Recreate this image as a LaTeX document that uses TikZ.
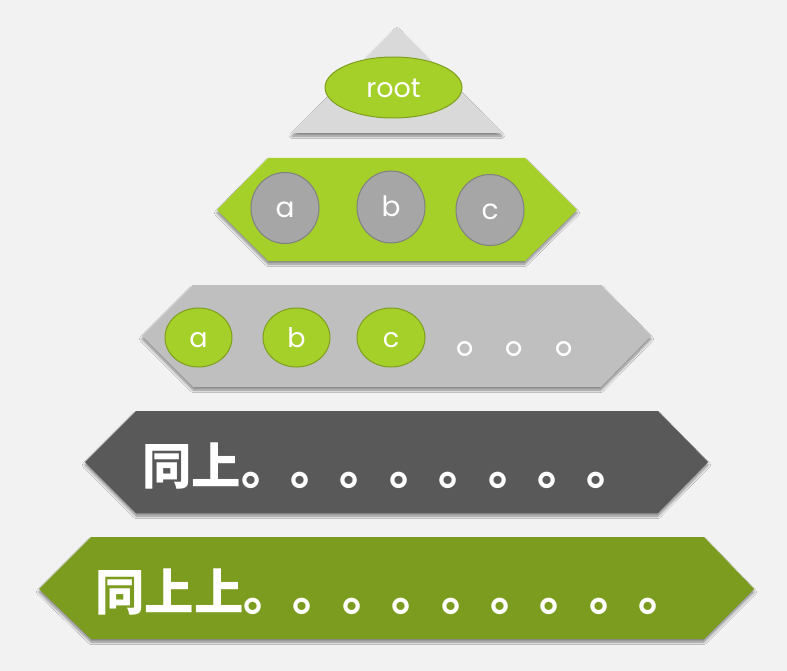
\documentclass[tikz,border=0pt]{standalone}
\usepackage{fontspec}
\newfontfamily\gothic{Poppins}
\newfontfamily\cjk{Noto Sans CJK SC}
\usetikzlibrary{shapes.geometric,shadows.blur}
\definecolor{bg}{HTML}{F2F2F2}
\definecolor{tri}{HTML}{D9D9D9}
\definecolor{lime}{HTML}{A5CF29}
\definecolor{limeline}{HTML}{7F9F1E}
\definecolor{midgray}{HTML}{A6A6A6}
\definecolor{midline}{HTML}{808080}
\definecolor{lightgray}{HTML}{BFBFBF}
\definecolor{darkgray}{HTML}{595959}
\definecolor{olive}{HTML}{7C9C1F}
\tikzset{
  shade/.style={blur shadow={shadow xshift=0pt, shadow yshift=-3pt, shadow blur steps=8, shadow opacity=45, shadow blur radius=2.5pt}},
  ellbase/.style={ellipse, line width=1pt, inner sep=0pt, text=white, text height=20pt, text depth=0pt},
  greenell/.style={ellbase, fill=lime, draw=limeline, font=\gothic\fontsize{27}{27}\selectfont},
  grayell/.style={ellbase, fill=midgray, draw=midline, font=\gothic\fontsize{28}{28}\selectfont},
  cjktext/.style={anchor=base west, inner sep=0pt, text=white, font=\cjk\bfseries\fontsize{49.4}{49.4}\selectfont},
  dottext/.style={anchor=base west, inner sep=0pt, text=white, font=\cjk\fontsize{49.4}{49.4}\selectfont}
}
\begin{document}
\begin{tikzpicture}[x=1pt,y=-1pt]
\fill[bg] (0,0) rectangle (787,671);
\useasboundingbox (0,0) rectangle (787,671);
% level 1
\path[fill=tri, shade] (397,27) -- (502,133) -- (292,133) -- cycle;
\node[greenell, minimum width=137pt, minimum height=61pt] (root) at (393.5,87.5) {root};
% level 2
\path[fill=lime, shade] (217,210) -- (268,158) -- (525,158) -- (577,210) -- (525,261) -- (268,261) -- cycle;
\node[grayell, minimum width=68pt, minimum height=71pt] (a2) at (285,208) {a};
\node[grayell, minimum width=68pt, minimum height=72pt] (b2) at (391,207) {b};
\node[grayell, minimum width=68pt, minimum height=71pt] (c2) at (490,210) {c};
% level 3
\path[fill=lightgray, shade] (142,336) -- (193,285) -- (601,285) -- (651,336) -- (601,387) -- (193,387) -- cycle;
\node[greenell, minimum width=67pt, minimum height=59pt] (a3) at (198.5,337.5) {a};
\node[greenell, minimum width=67pt, minimum height=59pt] (b3) at (296.5,337.5) {b};
\node[greenell, minimum width=68pt, minimum height=59pt] (c3) at (391,337.5) {c};
\node[dottext] (d3) at (455,353) {。。。};
% level 4
\path[fill=darkgray, shade] (85,462) -- (136,411) -- (658,411) -- (708,462) -- (658,513) -- (136,513) -- cycle;
\node[cjktext] (t4) at (142,484) {同上。。。。。。。。};
% level 5
\path[fill=olive, shade] (39,589) -- (91,537) -- (704,537) -- (754,589) -- (704,639) -- (91,639) -- cycle;
\node[cjktext] (t5) at (95,610) {同上上。。。。。。。。。};
\end{tikzpicture}
\end{document}
